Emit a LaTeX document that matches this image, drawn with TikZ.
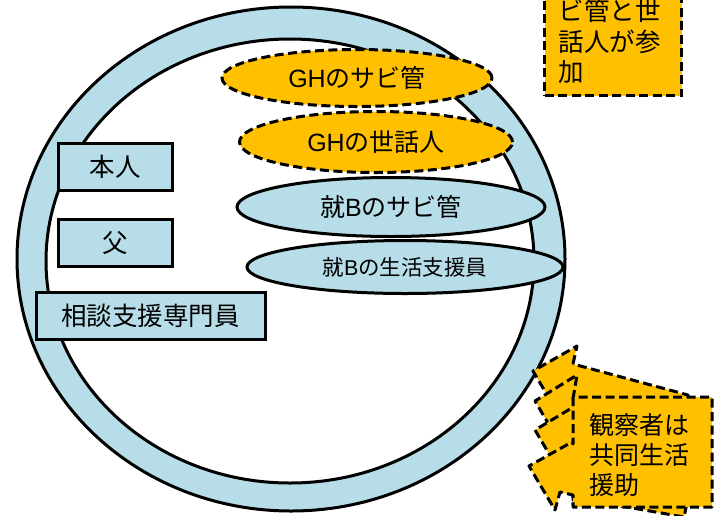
\documentclass[tikz,border=0pt]{standalone}
\usepackage{fontspec}
\setmainfont{Noto Sans CJK JP}
\newfontfamily\latfont{Liberation Sans}
\usetikzlibrary{shapes.geometric}
\definecolor{ringblue}{RGB}{183,222,232}
\definecolor{gold}{RGB}{255,192,0}
\begin{document}
\begin{tikzpicture}[x=1pt,y=-1pt,line width=3pt,
  ringell/.style={ellipse, draw=black, inner sep=0pt},
  labelbox/.style={rectangle, draw=black, fill=ringblue, inner sep=0pt, minimum height=47pt, font=\fontsize{25.5}{28}\selectfont},
  dsh/.style={dash pattern=on 9pt off 4.5pt},
  goldell/.style={ellipse, draw=black, fill=gold, dsh, inner sep=0pt, font=\fontsize{25}{28}\selectfont},
  blueell/.style={ellipse, draw=black, fill=ringblue, inner sep=0pt},
  callpoly/.style={draw=black, fill=gold, dsh, line join=round},
  calltext/.style={anchor=base west, inner sep=0pt, font=\fontsize{25}{30}\selectfont},
]
\useasboundingbox (0,0) rectangle (718,515);
\clip (0,0) rectangle (718,515);

% ring
\node[ringell, fill=ringblue, minimum width=548pt, minimum height=504pt] (outer) at (291,259) {};
\node[ringell, fill=white, minimum width=488pt, minimum height=444pt] (inner) at (290,261) {};

% boxes
\node[labelbox, minimum width=114pt] (honnin) at (115,166.5) {本人};
\node[labelbox, minimum width=114pt] (chichi) at (115,242.5) {父};
\node[labelbox, minimum width=229pt] (soudan) at (150.5,315.5) {相談支援専門員};

% ellipses
\node[goldell, minimum width=270pt, minimum height=57pt] (ghsabi) at (357,78) {{\latfont GH}のサビ管};
\node[goldell, minimum width=273pt, minimum height=61pt] (ghsewa) at (376,142) {{\latfont GH}の世話人};
\node[blueell, minimum width=308pt, minimum height=59pt, font=\fontsize{25}{28}\selectfont] (bsabi) at (391,207) {就{\latfont B}のサビ管};
\node[blueell, minimum width=316pt, minimum height=53pt, font=\fontsize{21.5}{24}\selectfont] (bseikatsu) at (405,267) {就{\latfont B}の生活支援員};

% top-right note
\node[rectangle, draw=black, fill=gold, dsh, inner sep=0pt, minimum width=137pt, minimum height=140pt, anchor=south west] (ghnote) at (543,97) {};
\node[calltext, font=\fontsize{25.5}{30}\selectfont] (ghl1) at (557,20) {ビ管と世};
\node[calltext, font=\fontsize{25.5}{30}\selectfont] (ghl2) at (557,51) {話人が参};
\node[calltext, font=\fontsize{25.5}{30}\selectfont] (ghl3) at (557,81) {加};

% bottom-right stacked arrow callouts
\draw[callpoly] (573,364) -- (577,346) -- (533,371) -- (559,415) -- (564,397) -- (573,399) -- (573,470) -- (690,480) -- (688,395) -- cycle;
\draw[callpoly] (573,399) -- (577,375) -- (535,401) -- (561,445) -- (566,427) -- (573,429) -- (573,500) -- (627,507) -- (684,517) -- (705,420) -- (705,399) -- cycle;
\draw[callpoly] (573,399) -- (575,406) -- (535,430) -- (561,474) -- (566,456) -- (573,458) -- (573,505) -- (705,505) -- (705,399) -- cycle;
\draw[callpoly] (573,397) -- (573,444) -- (572,442) -- (529,466) -- (555,510) -- (560,492) -- (573,495) -- (573,507) -- (712,507) -- (712,397) -- cycle;
\node[calltext] (obs1) at (588,434.5) {観察者は};
\node[calltext] (obs2) at (588,464.5) {共同生活};
\node[calltext] (obs3) at (588,494.5) {援助};
\end{tikzpicture}
\end{document}
